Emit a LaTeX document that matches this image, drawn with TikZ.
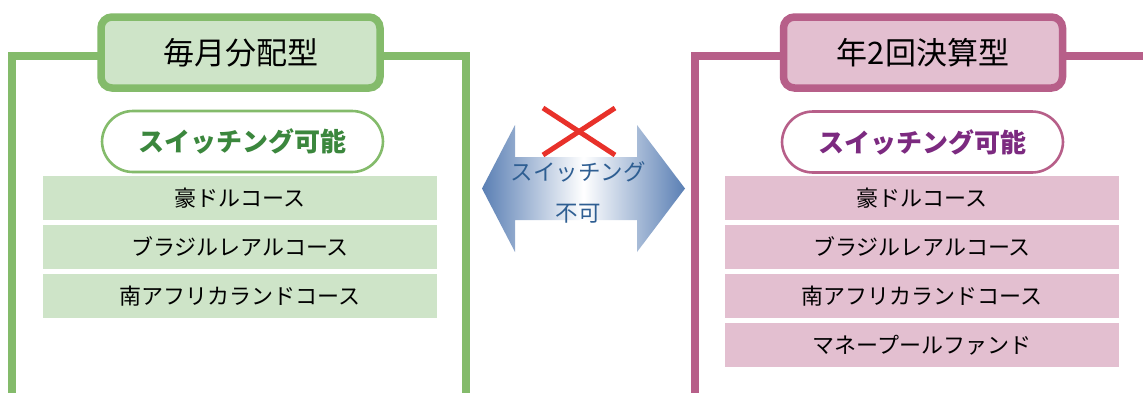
\documentclass[tikz,border=0pt]{standalone}
\usepackage{fontspec}
\setmainfont{Noto Sans CJK JP}
\usetikzlibrary{shadings}
\definecolor{gline}{HTML}{84BB6B}
\definecolor{gfill}{HTML}{CEE4C8}
\definecolor{gtext}{HTML}{3B873D}
\definecolor{pline}{HTML}{B75F89}
\definecolor{pfill}{HTML}{E3BFD0}
\definecolor{ptext}{HTML}{7C2A80}
\definecolor{ablue}{HTML}{5A7FB4}
\definecolor{atext}{HTML}{2E5E92}
\definecolor{xred}{HTML}{E8312A}
\tikzset{
  frameline/.style={line width=8pt, miter limit=10},
  titlebox/.style={draw, line width=7.5pt, rounded corners=11pt, minimum width=279pt, minimum height=71pt, inner sep=0pt, font=\fontsize{31}{33}\selectfont},
  pill/.style={draw, line width=2.6pt, fill=white, rounded corners=31pt, minimum width=281pt, minimum height=61pt, inner sep=0pt, font=\bfseries\fontsize{26}{28}\selectfont},
  rowbox/.style={minimum width=394pt, minimum height=44pt, inner sep=0pt, font=\fontsize{22}{24}\selectfont},
}
\begin{document}
\begin{tikzpicture}[x=1pt,y=-1pt]
\useasboundingbox (0,0) rectangle (1143,392);
\fill[white] (0,0) rectangle (1143,392);
% left frame
\draw[frameline, gline] (12,400) -- (12,56) -- (466,56) -- (466,400);
\node[titlebox, draw=gline, fill=gfill] (ltitle) at (240.5,52.5) {毎月分配型};
\node[pill, draw=gline, text=gtext] (lpill) at (242.5,141.5) {スイッチング可能};
\node[rowbox, fill=gfill] (l1) at (240,198) {豪ドルコース};
\node[rowbox, fill=gfill] (l2) at (240,247) {ブラジルレアルコース};
\node[rowbox, fill=gfill] (l3) at (240,296) {南アフリカランドコース};
% right frame
\draw[frameline, pline] (695,400) -- (695,56) -- (1150,56);
\node[titlebox, draw=pline, fill=pfill] (rtitle) at (923,52.5) {年2回決算型};
\node[pill, draw=pline, text=ptext] (rpill) at (922.5,142) {スイッチング可能};
\node[rowbox, fill=pfill] (r1) at (922,198) {豪ドルコース};
\node[rowbox, fill=pfill] (r2) at (922,247) {ブラジルレアルコース};
\node[rowbox, fill=pfill] (r3) at (922,296) {南アフリカランドコース};
\node[rowbox, fill=pfill] (r4) at (922,345) {マネープールファンド};
% double arrow
\shade[left color=ablue, right color=ablue, middle color=white]
  (482,188.5) -- (515,125) -- (515,157) -- (637,157) -- (637,125) -- (685,188.5)
  -- (637,252) -- (637,220) -- (515,220) -- (515,252) -- cycle;
\draw[xred, line width=5pt] (543,108) -- (615,155);
\draw[xred, line width=5pt] (615,108) -- (543,155);
\node[align=center, text=atext, font=\fontsize{22.5}{41}\selectfont, inner sep=0pt] (alabel) at (578,192) {スイッチング\\不可};
\end{tikzpicture}
\end{document}
